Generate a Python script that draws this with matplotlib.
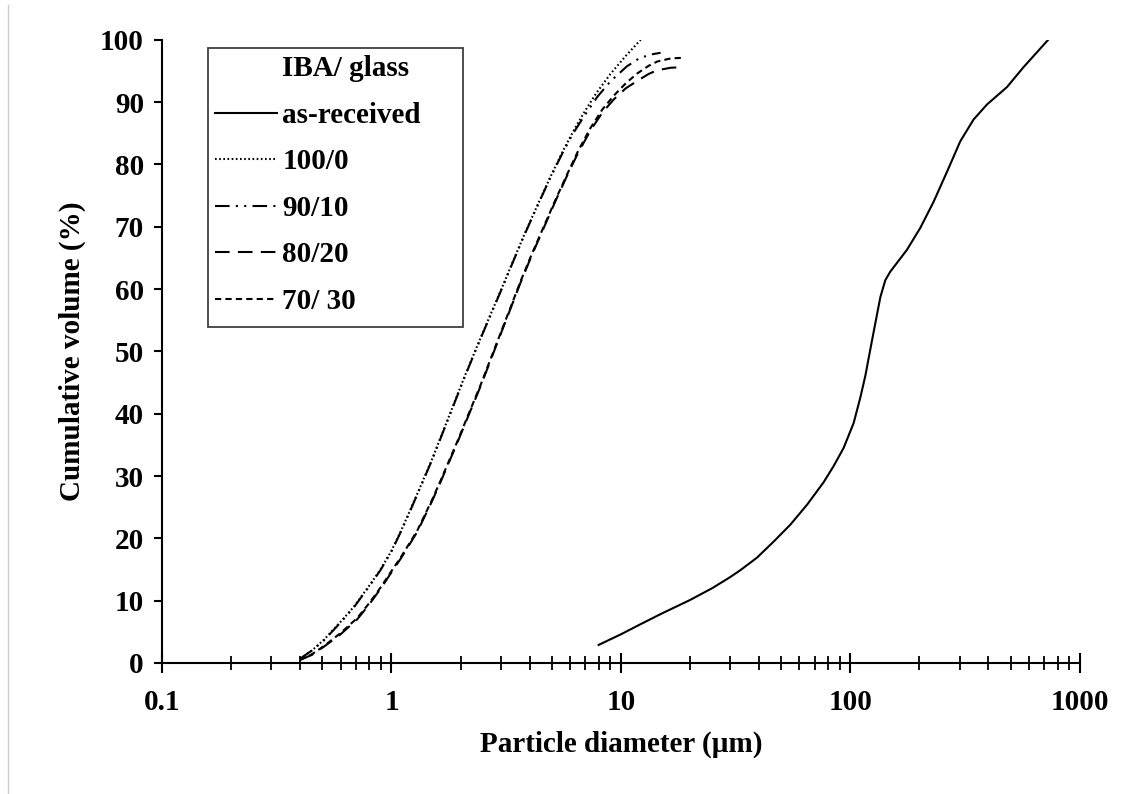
import matplotlib.pyplot as plt
from matplotlib.lines import Line2D
from matplotlib.patches import Rectangle

plt.rcParams['font.family'] = ['Liberation Serif', 'DejaVu Serif']
plt.rcParams['font.weight'] = 'bold'
plt.rcParams['axes.labelweight'] = 'bold'
plt.rcParams['font.size'] = 21

# particle size distributions (diameter in um, cumulative volume in %)
d_asrec = [8.0, 10.0, 12.0, 15.0, 20.0, 25.0, 30.0, 33.2, 39.2, 46.4, 54.8,
           64.8, 76.5, 84.6, 93.5, 103.4, 110.6, 116.3, 122.2, 128.5, 135.2,
           142.0, 149.4, 159.8, 176.6, 201.8, 230.7, 263.8, 301.5, 344.6,
           394.0, 481.8, 569.0, 729.0]
v_asrec = [2.9, 4.6, 6.1, 7.9, 10.1, 12.0, 13.8, 14.9, 16.9, 19.5, 22.2,
           25.4, 29.0, 31.6, 34.5, 38.5, 42.6, 46.1, 50.3, 54.5, 58.7,
           61.4, 62.8, 64.2, 66.3, 69.8, 74.0, 78.8, 83.7, 87.2,
           89.6, 92.4, 95.6, 100]

d_100 = [0.40, 0.45, 0.507, 0.60, 0.685, 0.80, 0.896, 1.0, 1.094, 1.2, 1.337,
         1.5, 1.607, 1.8, 2.065, 2.3, 2.61, 3.0, 3.4, 3.8, 4.3, 4.93, 5.6,
         6.2, 6.88, 7.8, 9.0, 10.5, 12.2]
v_100 = [0.7, 2.0, 3.7, 6.6, 9.0, 12.4, 15.0, 18.0, 21.0, 24.3, 28.3,
         32.6, 35.4, 40.0, 45.6, 49.8, 54.6, 59.8, 64.6, 68.8, 73.2, 78.0, 82.2,
         85.3, 88.2, 91.4, 94.5, 97.4, 100]

d_90 = [0.40, 0.45, 0.507, 0.60, 0.685, 0.80, 0.896, 1.0, 1.094, 1.2, 1.337,
        1.5, 1.607, 1.8, 2.065, 2.3, 2.61, 3.0, 3.4, 3.8, 4.3, 4.93, 5.6,
        6.2, 6.88, 7.88, 9.0, 10.6, 12.0, 13.4, 14.9]
v_90 = [0.7, 2.0, 3.6, 6.5, 8.9, 12.3, 14.9, 17.9, 20.9, 24.2, 28.2,
        32.5, 35.3, 39.9, 45.5, 49.7, 54.5, 59.7, 64.5, 68.7, 73.1, 77.9, 82.0,
        85.0, 87.6, 90.8, 93.3, 95.7, 97.0, 97.6, 97.9]

d_80 = [0.40, 0.45, 0.507, 0.60, 0.709, 0.80, 0.90, 0.99, 1.1, 1.294, 1.5,
        1.635, 1.8, 1.93, 2.2, 2.44, 2.7, 2.98, 3.3, 3.65, 4.1, 4.61, 5.2,
        5.83, 6.5, 7.36, 8.3, 9.3, 10.5, 11.8, 13.2, 14.4, 16.5, 18.7]
v_80 = [0.5, 1.3, 2.6, 4.6, 7.0, 9.4, 12.0, 14.3, 16.8, 21.0, 25.9,
        29.0, 32.6, 35.2, 40.3, 44.3, 48.5, 52.6, 56.8, 61.0, 65.5, 69.8, 74.2,
        78.2, 81.8, 85.4, 88.3, 90.4, 92.2, 93.4, 94.5, 95.1, 95.5, 95.6]

d_70 = [0.40, 0.45, 0.507, 0.60, 0.709, 0.80, 0.90, 0.99, 1.1, 1.294, 1.5,
        1.635, 1.8, 1.93, 2.2, 2.44, 2.7, 2.98, 3.3, 3.65, 4.1, 4.61, 5.2,
        5.83, 6.5, 7.36, 8.3, 9.3, 10.5, 11.8, 13.2, 14.4, 16.5, 18.7]
v_70 = [0.5, 1.4, 2.7, 4.8, 7.2, 9.6, 12.2, 14.5, 17.0, 21.2, 26.1,
        29.2, 32.8, 35.4, 40.5, 44.5, 48.7, 52.8, 57.0, 61.2, 65.7, 70.0, 74.4,
        78.4, 82.1, 85.8, 88.8, 91.0, 93.0, 94.6, 95.8, 96.5, 97.0, 97.1]

yticks = list(range(0, 101, 10))
xticks = [0.1, 1, 10, 100, 1000]
xticklabels = ['0.1', '1', '10', '100', '1000']

W, H = 1133, 794
fig = plt.figure(figsize=(W / 100, H / 100), dpi=100)
ax = fig.add_axes([0.143, 0.165, 0.81, 0.785])

lw = 1.5
ax.plot(d_asrec, v_asrec, color='black', lw=lw, ls='-', label='as-received')
ax.plot(d_100, v_100, color='black', lw=lw, ls=(0, (0.8, 1.2)), label='100/0')
ax.plot(d_90, v_90, color='black', lw=lw, ls=(0, (7, 3, 1, 3, 1, 3)), label='90/10')
ax.plot(d_80, v_80, color='black', lw=lw, ls=(0, (7, 4)), label='80/20')
ax.plot(d_70, v_70, color='black', lw=lw, ls=(0, (3, 2)), label='70/ 30')

ax.set_xscale('log')
ax.set_xlim(0.1, 1000)
ax.set_ylim(0, 100)
ax.set_xticks(xticks)
ax.set_xticklabels(xticklabels)
ax.set_yticks(yticks)

ax.spines['top'].set_visible(False)
ax.spines['right'].set_visible(False)
for s in ['left', 'bottom']:
    ax.spines[s].set_linewidth(1.5)

ax.tick_params(axis='x', which='major', direction='inout', length=14, width=1.5, pad=12)
ax.tick_params(axis='x', which='minor', direction='inout', length=10, width=1.3)
ax.tick_params(axis='y', which='major', direction='out', length=6, width=1.5, pad=7)

ax.set_xlabel('Particle diameter (µm)', labelpad=10)
ax.set_ylabel('Cumulative volume (%)', labelpad=10)

# legend with a heading row that has no line, boxed by a fixed frame
handles, labels = ax.get_legend_handles_labels()
blank = Line2D([], [], color='none')
leg = ax.legend([blank] + handles, ['IBA/ glass'] + labels,
                loc='upper left', bbox_to_anchor=(208 / W, 1 - 48 / H),
                bbox_transform=fig.transFigure, borderaxespad=0,
                frameon=False, handlelength=2.1, handletextpad=0.2,
                labelspacing=0.67, borderpad=0.25)
fig.add_artist(Rectangle((208 / W, 1 - 327 / H), 255 / W, 279 / H,
                         transform=fig.transFigure, fill=False,
                         edgecolor='#404040', lw=1.3))

# thin page border on the left
fig.add_artist(Line2D([8 / W, 8 / W], [0, 1 - 5 / H],
                      transform=fig.transFigure, color='#cccccc', lw=1))

fig.savefig('out.png', dpi=100)
